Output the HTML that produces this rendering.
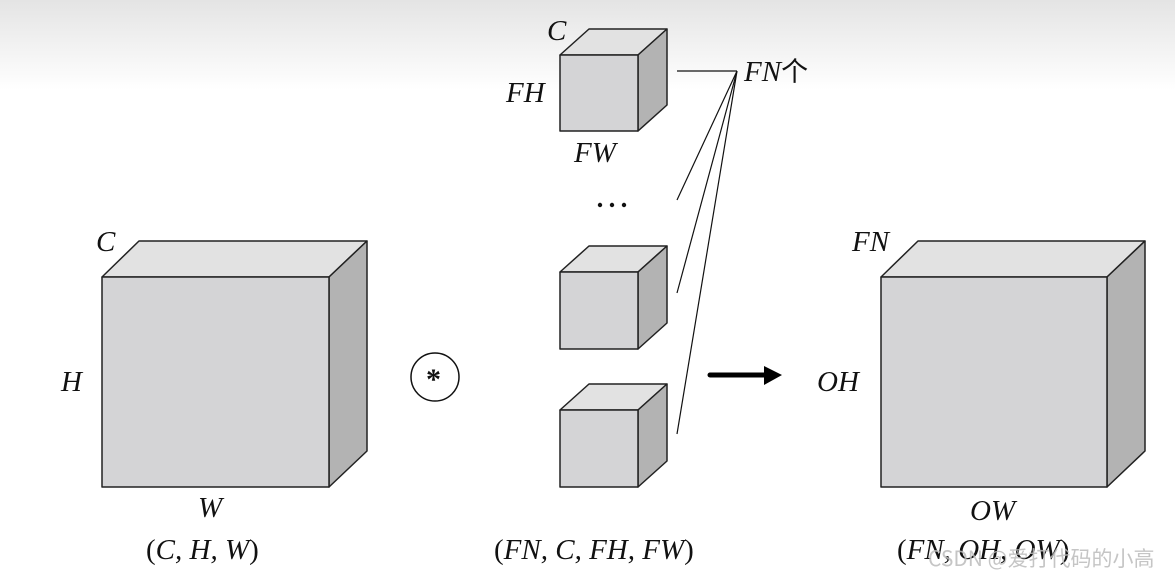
<!DOCTYPE html>
<html><head><meta charset="utf-8"><style>
html,body{margin:0;padding:0;background:#fff;}
svg{display:block;}
text{font-family:"Liberation Serif","Noto Serif CJK SC",serif;font-style:italic;font-size:29px;fill:#111;}
.cjk{font-family:"Noto Sans CJK SC",sans-serif;font-style:normal;}
</style></head><body>
<svg width="1175" height="579" viewBox="0 0 1175 579" xmlns="http://www.w3.org/2000/svg">
<defs>
<linearGradient id="bg" x1="0" y1="0" x2="0" y2="1">
<stop offset="0" stop-color="#e4e4e4"/><stop offset="1" stop-color="#ffffff"/>
</linearGradient>
</defs>
<rect x="0" y="0" width="1175" height="90" fill="url(#bg)"/>
<g stroke="#222" stroke-width="1.5" stroke-linejoin="round">
<!-- big left cube -->
<polygon points="102,277 139,241 367,241 329,277" fill="#e2e2e2"/>
<polygon points="329,277 367,241 367,451 329,487" fill="#b3b3b3"/>
<rect x="102" y="277" width="227" height="210" fill="#d4d4d6"/>
<!-- right cube -->
<polygon points="881,277 918,241 1145,241 1107,277" fill="#e2e2e2"/>
<polygon points="1107,277 1145,241 1145,451 1107,487" fill="#b3b3b3"/>
<rect x="881" y="277" width="226" height="210" fill="#d4d4d6"/>
<!-- small cubes -->
<polygon points="560,55 589,29 667,29 638,55" fill="#e2e2e2"/>
<polygon points="638,55 667,29 667,105 638,131" fill="#b3b3b3"/>
<rect x="560" y="55" width="78" height="76" fill="#d4d4d6"/>
<polygon points="560,272 589,246 667,246 638,272" fill="#e2e2e2"/>
<polygon points="638,272 667,246 667,323 638,349" fill="#b3b3b3"/>
<rect x="560" y="272" width="78" height="77" fill="#d4d4d6"/>
<polygon points="560,410 589,384 667,384 638,410" fill="#e2e2e2"/>
<polygon points="638,410 667,384 667,461 638,487" fill="#b3b3b3"/>
<rect x="560" y="410" width="78" height="77" fill="#d4d4d6"/>
</g>
<g stroke="#111" stroke-width="1.2" fill="none">
<line x1="677" y1="71" x2="737" y2="71"/>
<line x1="737" y1="71" x2="677" y2="200"/>
<line x1="737" y1="71" x2="677" y2="293"/>
<line x1="737" y1="71" x2="677" y2="434"/>
<circle cx="435" cy="377" r="24" stroke-width="1.5"/>
</g>
<line x1="710" y1="375" x2="768" y2="375" stroke="#000" stroke-width="5" stroke-linecap="round"/>
<polygon points="764,366 782,375 764,385" fill="#000"/>
<text x="426" y="389" style="font-style:normal;font-size:30px;font-weight:bold">*</text>
<circle cx="600" cy="205" r="2.2" fill="#111"/><circle cx="612" cy="205" r="2.2" fill="#111"/><circle cx="624" cy="205" r="2.2" fill="#111"/>
<text x="547" y="40">C</text>
<text x="506" y="102">FH</text>
<text x="574" y="162">FW</text>
<text x="744" y="81">FN<tspan class="cjk" font-size="27">个</tspan></text>
<text x="96" y="251">C</text>
<text x="61" y="391">H</text>
<text x="198" y="517">W</text>
<text x="146" y="559"><tspan style="font-style:normal">(</tspan>C, H, W<tspan style="font-style:normal">)</tspan></text>
<text x="494" y="559"><tspan style="font-style:normal">(</tspan>FN, C, FH, FW<tspan style="font-style:normal">)</tspan></text>
<text x="852" y="251">FN</text>
<text x="817" y="391">OH</text>
<text x="970" y="520">OW</text>
<text x="897" y="559"><tspan style="font-style:normal">(</tspan>FN, OH, OW<tspan style="font-style:normal">)</tspan></text>
<text x="928" y="566" class="cjk" style="font-size:21px;fill:#bbb;fill-opacity:0.85">CSDN @爱打代码的小高</text>
</svg>
</body></html>
